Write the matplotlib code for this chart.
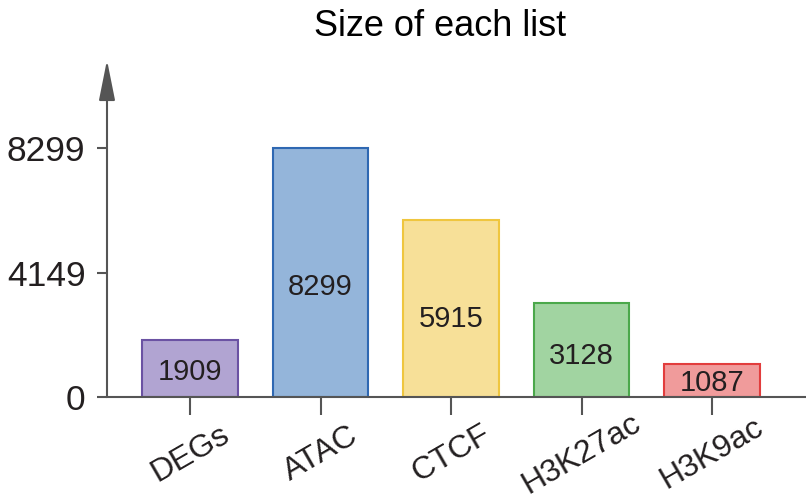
import matplotlib
matplotlib.use('Agg')
import matplotlib.pyplot as plt

plt.rcParams['font.family'] = ['Liberation Sans', 'DejaVu Sans']

categories = ['DEGs', 'ATAC', 'CTCF', 'H3K27ac', 'H3K9ac']
sizes = [1909, 8299, 5915, 3128, 1087]
y_ticks = [0, 4149, 8299]
fill_colors = ['#b1a4d2', '#94b5da', '#f7e098', '#a1d4a1', '#f09b9b']
edge_colors = ['#6b52a3', '#2f68b2', '#efc63f', '#4ba84b', '#e23d3d']

text_color = '#231f20'
axis_color = '#555555'

fig = plt.figure(figsize=(8.06, 5.03), dpi=100)
ax = fig.add_axes([107 / 806, 106 / 503, 699 / 806, 337 / 503])

x = range(len(categories))
ax.bar(x, sizes, width=0.735, color=fill_colors, edgecolor=edge_colors, linewidth=1.5, zorder=2)
for xi, v in zip(x, sizes):
    ax.text(xi, v * 0.44, str(v), ha='center', va='center', fontsize=21, color=text_color, zorder=3)

ax.set_xlim(-0.636, 4.72)
ax.set_ylim(0, 8299 * 337 / 249)

ax.spines['top'].set_visible(False)
ax.spines['right'].set_visible(False)
ax.spines['left'].set_visible(False)
ax.spines['bottom'].set_color(axis_color)
ax.spines['bottom'].set_linewidth(1.5)
ax.spines['bottom'].set_zorder(4)

# y axis drawn as an arrow
ax.annotate('', xy=(0, 1), xytext=(0, 0), xycoords='axes fraction',
            arrowprops=dict(arrowstyle='-|>,head_length=25,head_width=5', mutation_scale=1,
                            color=axis_color, lw=1.5, shrinkA=0, shrinkB=0))

ax.set_yticks(y_ticks)
ax.set_yticklabels([str(t) for t in y_ticks])
ax.tick_params(axis='y', length=7.5, width=1.5, color=axis_color, pad=8, labelsize=25.5, labelcolor=text_color)
ax.set_xticks(list(x))
ax.set_xticklabels(categories, rotation=30, ha='center', va='center', rotation_mode='anchor')
ax.tick_params(axis='x', length=13, width=1.5, color=axis_color, pad=28, labelsize=23, labelcolor=text_color)

fig.text(440 / 806, 1 - 26 / 503, 'Size of each list', ha='center', va='center', fontsize=26, color='black')

fig.savefig('out.png', dpi=100)
